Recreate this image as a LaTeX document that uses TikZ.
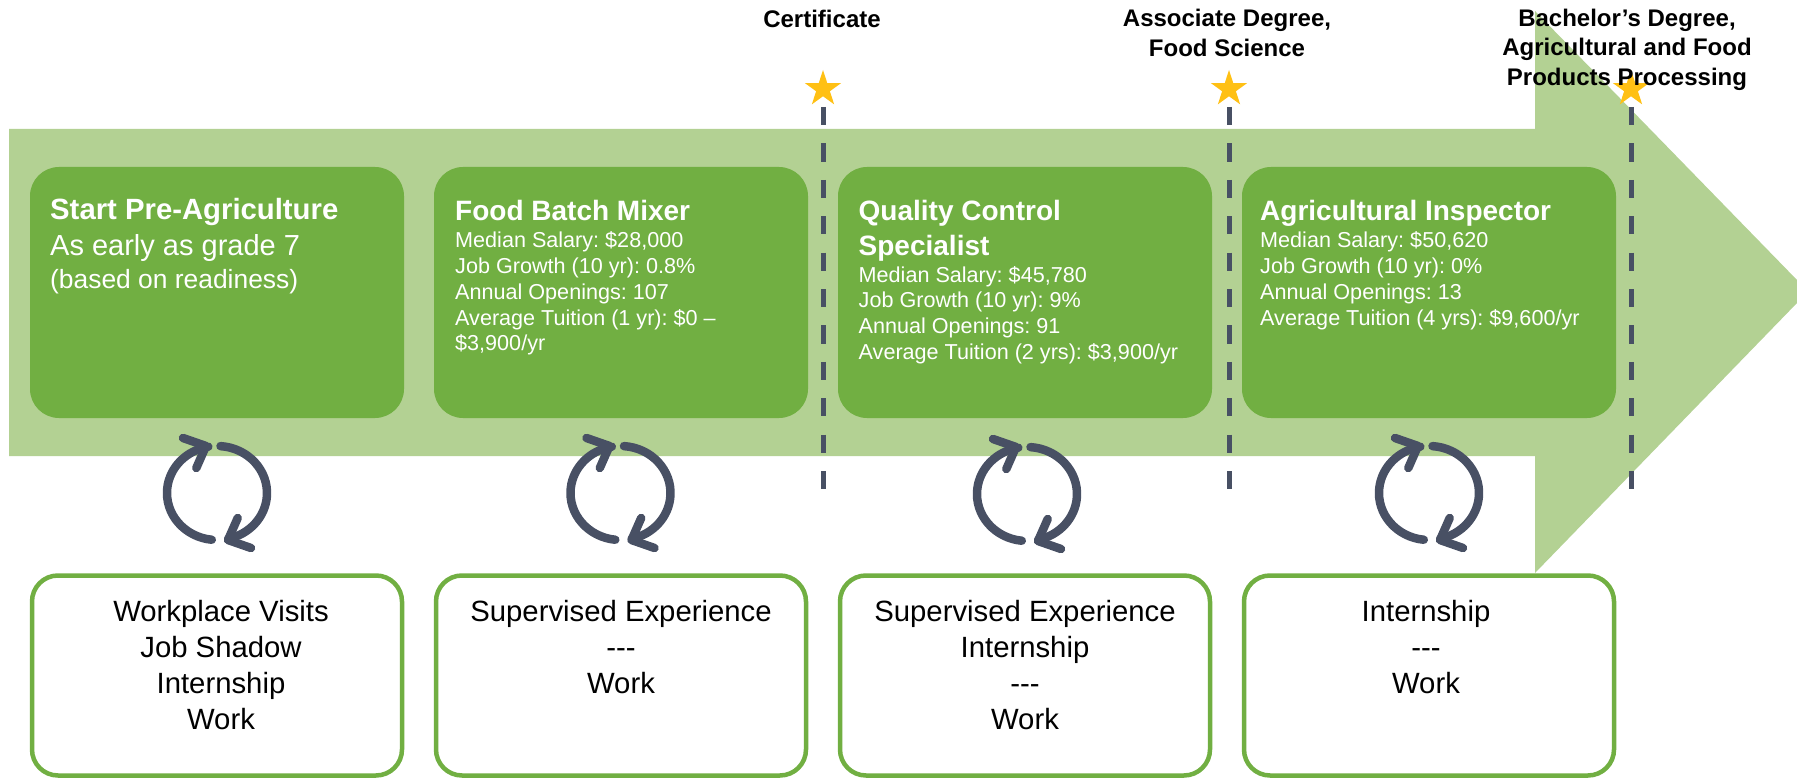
\documentclass[tikz,border=0pt]{standalone}
\usepackage{fontspec}
\setmainfont{Liberation Sans}
\usetikzlibrary{positioning, shapes.geometric}
\definecolor{arrowgreen}{HTML}{B3D193}
\definecolor{cardgreen}{HTML}{71AF42}
\definecolor{slate}{HTML}{485064}
\definecolor{stargold}{HTML}{FFC014}
\frenchspacing
\newcommand{\titlefont}{\fontsize{28}{34.7}\selectfont\bfseries\lineskiplimit=-100pt}
\newcommand{\starttitlefont}{\fontsize{29.3}{34.7}\selectfont\bfseries\lineskiplimit=-100pt}
\newcommand{\leadfont}{\fontsize{29}{32.5}\selectfont\mdseries\lineskiplimit=-100pt}
\newcommand{\notefont}{\fontsize{26.4}{32.5}\selectfont\mdseries\lineskiplimit=-100pt}
\newcommand{\smallfont}{\fontsize{21.6}{25.7}\selectfont\mdseries\lineskiplimit=-100pt}
\tikzset{
  card/.style={rectangle, fill=cardgreen, rounded corners=29pt, minimum width=374pt, minimum height=251pt, inner sep=0pt, outer sep=0pt},
  cardtext/.style={anchor=north west, text=white, text width=345pt, align=flush left, inner sep=0pt},
  workbox/.style={rectangle, draw=cardgreen, fill=white, line width=4.5pt, rounded corners=26pt, minimum width=370pt, minimum height=200pt, inner sep=0pt, outer sep=0pt},
  worktext/.style={anchor=north, text width=360pt, align=flush center, inner sep=0pt, font=\fontsize{29.3}{35.9}\selectfont},
  degree/.style={anchor=north, align=center, inner sep=0pt, font=\fontsize{24}{29.5}\selectfont\bfseries},
  goldstar/.style={star, star points=5, star point ratio=2.618, fill=stargold, minimum size=38pt, inner sep=0pt},
  stepline/.style={draw=slate, line width=5pt, dash pattern=on 18.2pt off 18.2pt},
  cycleline/.style={draw=slate, line width=8.5pt, line cap=round, line join=round},
  cycle/.pic={
    \draw[cycleline] (86:50pt and 47pt) arc[start angle=86, end angle=-77, x radius=50pt, y radius=47pt];
    \draw[cycleline] (20.7,-25) -- (11,-47) -- (34,-55);
    \draw[cycleline] (264:50pt and 47pt) arc[start angle=264, end angle=100, x radius=50pt, y radius=47pt];
    \draw[cycleline] (-20.7,25) -- (-11,47) -- (-34,55);
  }
}

\begin{document}
\begin{tikzpicture}[x=1pt, y=1pt]
\useasboundingbox (0,0) rectangle (1797,-778);
\fill[arrowgreen] (9,-129) -- (1535,-129) -- (1535,-11) -- (1797,-280) -- (1797,-303) -- (1535,-573) -- (1535,-456) -- (9,-456) -- cycle;

\node (card1) [card, anchor=north west] at (30,-167) {};
\node (card2) [card, right=30pt of card1] {};
\node (card3) [card, right=30pt of card2] {};
\node (card4) [card, right=30pt of card3] {};

\node (work1) [workbox, below=157.5pt of card1] {};
\node (work2) [workbox, below=157.5pt of card2] {};
\node (work3) [workbox, below=157.5pt of card3] {};
\node (work4) [workbox, below=157.5pt of card4] {};

\node (text1) [cardtext] at ([shift={(20,-31.5)}]card1.north west) {{\starttitlefont Start Pre-Agriculture\par}\leadfont\vspace{3.5pt}As early as grade 7\par\notefont (based on readiness)\par};
\node (text2) [cardtext] at ([shift={(21,-33.5)}]card2.north west) {{\titlefont Food Batch Mixer\par}\smallfont\vspace{1.3pt}Median Salary: \$28,000\\Job Growth (10 yr): 0.8\%\\Annual Openings: 107\\Average Tuition (1 yr): \$0 --\\\$3,900/yr\par};
\node (text3) [cardtext] at ([shift={(20.5,-33)}]card3.north west) {{\titlefont Quality Control\\Specialist\par}\smallfont\vspace{1.3pt}Median Salary: \$45,780\\Job Growth (10 yr): 9\%\\Annual Openings: 91\\Average Tuition (2 yrs): \$3,900/yr\par};
\node (text4) [cardtext] at ([shift={(18,-33.5)}]card4.north west) {{\titlefont Agricultural Inspector\par}\smallfont\vspace{1.3pt}Median Salary: \$50,620\\Job Growth (10 yr): 0\%\\Annual Openings: 13\\Average Tuition (4 yrs): \$9,600/yr\par};

\node (list1) [worktext] at ([shift={(4,-24.5)}]work1.north) {Workplace Visits\\Job Shadow\\Internship\\Work};
\node (list2) [worktext] at ([yshift=-24.5pt]work2.north) {Supervised Experience\\-{}-{}-\\Work};
\node (list3) [worktext] at ([yshift=-24.5pt]work3.north) {Supervised Experience\\Internship\\-{}-{}-\\Work};
\node (list4) [worktext] at ([shift={(-3,-24.5)}]work4.north) {Internship\\-{}-{}-\\Work};

\pic (cycle1) at (217,-493) {cycle};
\pic (cycle2) at (620.5,-493) {cycle};
\pic (cycle3) at (1027,-494) {cycle};
\pic (cycle4) at (1429,-493) {cycle};

\coordinate (end1) at (823,-489);
\coordinate (end2) at (1229,-489);
\coordinate (end3) at (1631,-489);
\node (star1) [goldstar] at (823,-89) {};
\node (star2) [goldstar] at (1229,-89) {};
\node (star3) [goldstar] at (1631,-89) {};
\path[stepline] (star1.center |- 0,-107) -- (end1);
\path[stepline] (star2.center |- 0,-107) -- (end2);
\path[stepline] (star3.center |- 0,-107) -- (end3);

\node (cert) [degree] at (822,-10) {Certificate};
\node (assoc) [degree] at (1227,-9) {Associate Degree,\\Food Science};
\node (bach) [degree] at (1627,-8.5) {Bachelor’s Degree,\\Agricultural and Food\\Products Processing};
\end{tikzpicture}
\end{document}
